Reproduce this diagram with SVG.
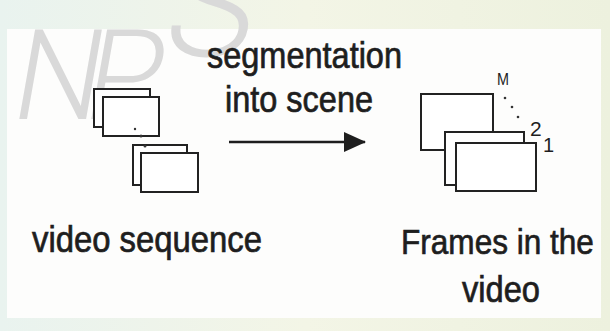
<svg xmlns="http://www.w3.org/2000/svg" width="610" height="331" viewBox="0 0 610 331">
  <style>
    .lbl { font-family: "Liberation Sans", Arial, sans-serif; font-size: 36px; fill: #1e1e1e; stroke: #1e1e1e; stroke-width: 0.7; }
    .idx { font-family: "Liberation Sans", Arial, sans-serif; fill: #1e1e1e; }
    .frame { fill: #ffffff; stroke: #222222; stroke-width: 2; }
    .wm { font-family: Roboto, "Liberation Sans", sans-serif; font-weight: 300; fill: #d9d9d9; }
    .dot { fill: #333333; }
    .conn { stroke: #1e1e1e; stroke-width: 2.5; fill: none; }
  </style>
  <defs>
    <linearGradient id="bg" x1="0" y1="0" x2="1" y2="0">
      <stop offset="0" stop-color="#e9f3ef"/>
      <stop offset="0.5" stop-color="#f3f5e6"/>
      <stop offset="1" stop-color="#edf1de"/>
    </linearGradient>
    <marker id="head" viewBox="0 0 22 20" refX="21" refY="10" markerWidth="22" markerHeight="20" markerUnits="userSpaceOnUse" orient="auto">
      <path d="M0,0 L22,10 L0,20 Z" fill="#1e1e1e"/>
    </marker>
  </defs>

  <!-- page background and white panel -->
  <rect x="0" y="0" width="610" height="331" fill="url(#bg)"/>
  <rect x="7" y="29" width="594" height="289" fill="#fdfdfc"/>

  <!-- faint watermark -->
  <g id="watermark">
    <text class="wm" font-size="126" transform="translate(8,119) skewX(-10)">N</text>
    <text class="wm" font-size="126" transform="translate(80,119) skewX(-10)">P</text>
    <text class="wm" font-size="150" transform="translate(160,56) skewX(-10)">S</text>
  </g>

  <!-- left node: stacked video frames -->
  <g id="video-sequence">
    <rect class="frame" x="94" y="89" width="56" height="38"/>
    <rect class="frame" x="103" y="97" width="56" height="39"/>
    <rect class="frame" x="133" y="145" width="54" height="40"/>
    <rect class="frame" x="141" y="153" width="57" height="39"/>
    <circle class="dot" cx="135" cy="129" r="1.2"/>
    <circle class="dot" cx="141" cy="136" r="1.5"/>
    <circle class="dot" cx="145" cy="146" r="1.5"/>
    <text class="lbl" x="32" y="252" textLength="230" lengthAdjust="spacingAndGlyphs">video sequence</text>
  </g>

  <!-- right node: frames 1..M -->
  <g id="frames">
    <rect class="frame" x="421" y="94" width="72" height="56"/>
    <rect class="frame" x="445" y="132" width="79" height="53"/>
    <rect class="frame" x="456" y="143" width="80" height="48"/>
    <text class="idx" x="497" y="85" font-size="17" textLength="12" lengthAdjust="spacingAndGlyphs">M</text>
    <circle class="dot" cx="505" cy="98" r="1.3"/>
    <circle class="dot" cx="512" cy="107" r="1.3"/>
    <circle class="dot" cx="518" cy="117" r="1.3"/>
    <text class="idx" x="530" y="136" font-size="21">2</text>
    <text class="idx" x="543" y="152" font-size="20">1</text>
    <text class="lbl" transform="translate(401,254) scale(0.877,1)">Frames in the</text>
    <text class="lbl" x="462" y="302" textLength="78" lengthAdjust="spacingAndGlyphs">video</text>
  </g>

  <!-- connector -->
  <g id="connectors">
    <line class="conn" x1="229" y1="142" x2="365" y2="142" marker-end="url(#head)"/>
    <text class="lbl" x="207" y="68" textLength="195" lengthAdjust="spacingAndGlyphs">segmentation</text>
    <text class="lbl" x="225" y="112" textLength="148" lengthAdjust="spacingAndGlyphs">into scene</text>
  </g>
</svg>
